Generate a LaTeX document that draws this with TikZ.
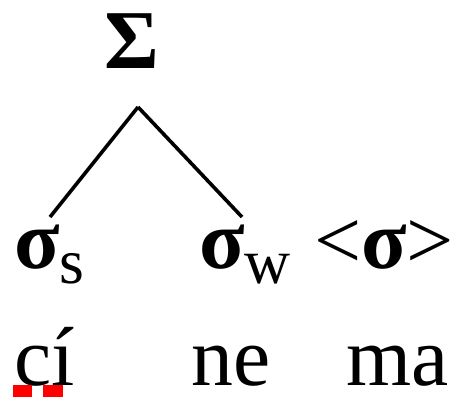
\documentclass[tikz,border=0pt]{standalone}
\usepackage{fontspec}
\setmainfont{Liberation Serif}
\usepackage{tikz}
\usetikzlibrary{calc}

\newcommand{\lowsub}[1]{\lower15bp\hbox{\fontsize{64}{64}\selectfont #1}}
\newcommand{\gr}[1]{{\bfseries #1}}

\begin{document}
\begin{tikzpicture}[x = 1bp, y = -1bp]

\tikzstyle{word}=[anchor = base west, inner sep = 0pt, font = \fontsize{84}{84}\selectfont]
\tikzstyle{seg}=[word, text depth = 0pt]
\tikzstyle{branch}=[line width = 3.6pt, color = black]

\useasboundingbox (0, 0) rectangle (471, 397);

\coordinate (top) at (138, 107);
\coordinate (lft) at (50, 217);
\coordinate (rgt) at (242, 217);

\path
(104, 68) node[word](foot) {\gr{Σ}}
(14, 268) node[word](strong) {\gr{σ}\lowsub{s}}
(199, 268) node[word](weak) {\gr{σ}\lowsub{w}}
(314, 268) node[word](extra) {<\gr{σ}>}
(14, 385) node[seg](ci) {cí}
(191, 385) node[seg](ne) {ne}
(346, 385) node[seg](ma) {ma};

%tree lines
\draw[branch] (top) to (lft);
\draw[branch] (top) to (rgt);

%spelling marks
\fill[red] (13, 385) rectangle (32, 397);
\fill[red] (43, 385) rectangle (63, 397);

\end{tikzpicture}
\end{document}
